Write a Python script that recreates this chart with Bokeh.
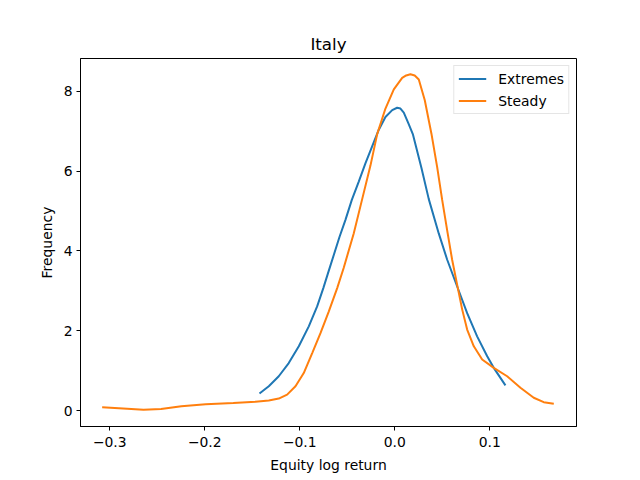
from bokeh.plotting import figure
from bokeh.models import Range1d, FixedTicker, Legend, LegendItem
from bokeh.embed import file_html
from bokeh.resources import INLINE

title = "Italy"
x_label = "Equity log return"
y_label = "Frequency"

x_ticks = [-0.3, -0.2, -0.1, 0.0, 0.1]
x_tick_labels = ["\u22120.3", "\u22120.2", "\u22120.1", "0.0", "0.1"]
y_ticks = [0, 2, 4, 6, 8]
y_tick_labels = ["0", "2", "4", "6", "8"]

extremes_x = [-0.1424, -0.1326, -0.1221, -0.1116, -0.1010, -0.0905, -0.0817, -0.0752,
              -0.0695, -0.0582, -0.0519, -0.0452, -0.0379, -0.0308, -0.0238, -0.0168,
              -0.0098, -0.0027, 0.0025, 0.0060, 0.0095, 0.0147, 0.0190, 0.0281,
              0.0358, 0.0463, 0.0552, 0.0657, 0.0762, 0.0867, 0.0973, 0.1042, 0.1165]
extremes_y = [0.425, 0.61, 0.86, 1.19, 1.61, 2.11, 2.61, 3.07,
              3.50, 4.35, 4.78, 5.28, 5.74, 6.20, 6.62, 7.04,
              7.36, 7.53, 7.59, 7.57, 7.47, 7.18, 6.93, 6.08,
              5.30, 4.44, 3.78, 3.11, 2.44, 1.86, 1.36, 1.07, 0.63]

steady_x = [-0.308, -0.286, -0.2645, -0.246, -0.2246, -0.199, -0.170, -0.1466,
            -0.1326, -0.1221, -0.1133, -0.1045, -0.0958, -0.0869, -0.0782, -0.0695,
            -0.0606, -0.0537, -0.0432, -0.0343, -0.0256, -0.0185, -0.0098, -0.0010,
            0.0078, 0.0120, 0.0165, 0.0210, 0.0253, 0.0316, 0.0386, 0.0446, 0.0499, 0.0557,
            0.0604, 0.0657, 0.0710, 0.0762, 0.0832, 0.0920, 0.1042, 0.1183,
            0.1323, 0.1463, 0.1568, 0.1674]
steady_y = [0.083, 0.05, 0.017, 0.04, 0.108, 0.158, 0.19, 0.22,
            0.25, 0.30, 0.40, 0.61, 0.94, 1.44, 1.94, 2.48,
            3.07, 3.58, 4.44, 5.30, 6.14, 6.93, 7.57, 8.05,
            8.34, 8.40, 8.43, 8.40, 8.30, 7.78, 6.94, 6.11, 5.28, 4.44,
            3.78, 3.15, 2.53, 2.03, 1.61, 1.28, 1.07, 0.86,
            0.57, 0.32, 0.21, 0.17]

FONT = "DejaVu Sans"

p = figure(width=632, height=475, output_backend="svg", toolbar_location=None,
           x_range=Range1d(-0.3308, 0.1913), y_range=Range1d(-0.40, 8.825),
           min_border_left=80, min_border_right=56, min_border_top=58, min_border_bottom=48)

p.title.text = title
p.title.align = "center"
p.title.text_font = FONT
p.title.text_font_size = "16.7px"
p.title.text_font_style = "normal"
p.title.text_color = "black"

p.background_fill_color = "white"
p.border_fill_color = "white"
p.outline_line_color = "black"
p.outline_line_width = 1
p.grid.visible = False

for ax in (p.xaxis[0], p.yaxis[0]):
    ax.axis_line_color = "black"
    ax.major_tick_line_color = "black"
    ax.major_tick_out = 4
    ax.major_tick_in = 0
    ax.minor_tick_line_color = None
    ax.major_label_text_font = FONT
    ax.major_label_text_font_size = "13.9px"
    ax.major_label_text_color = "black"
    ax.axis_label_text_font = FONT
    ax.axis_label_text_font_size = "13.9px"
    ax.axis_label_text_font_style = "normal"
    ax.axis_label_text_color = "black"

p.xaxis.ticker = FixedTicker(ticks=x_ticks)
p.xaxis.major_label_overrides = {t: l for t, l in zip(x_ticks, x_tick_labels)}
p.yaxis.ticker = FixedTicker(ticks=y_ticks)
p.yaxis.major_label_overrides = {t: l for t, l in zip(y_ticks, y_tick_labels)}
p.xaxis.axis_label = x_label
p.yaxis.axis_label = y_label
p.xaxis.major_label_standoff = 6
p.yaxis.major_label_standoff = 4
p.xaxis.axis_label_standoff = 7
p.yaxis.axis_label_standoff = 6

r1 = p.line(extremes_x, extremes_y, line_color="#1f77b4", line_width=2)
r2 = p.line(steady_x, steady_y, line_color="#ff7f0e", line_width=2)

legend = Legend(items=[LegendItem(label="Extremes", renderers=[r1]),
                       LegendItem(label="Steady", renderers=[r2])],
                location="top_right")
legend.label_text_font = FONT
legend.label_text_font_size = "13.9px"
legend.label_text_color = "black"
legend.border_line_color = "#cccccc"
legend.border_line_width = 1
legend.background_fill_alpha = 0.8
legend.margin = 7
legend.padding = 4
legend.spacing = 5
legend.glyph_width = 28
legend.glyph_height = 17
legend.label_height = 17
legend.label_standoff = 12
p.add_layout(legend)

open("out.html", "w").write(file_html(p, INLINE))
